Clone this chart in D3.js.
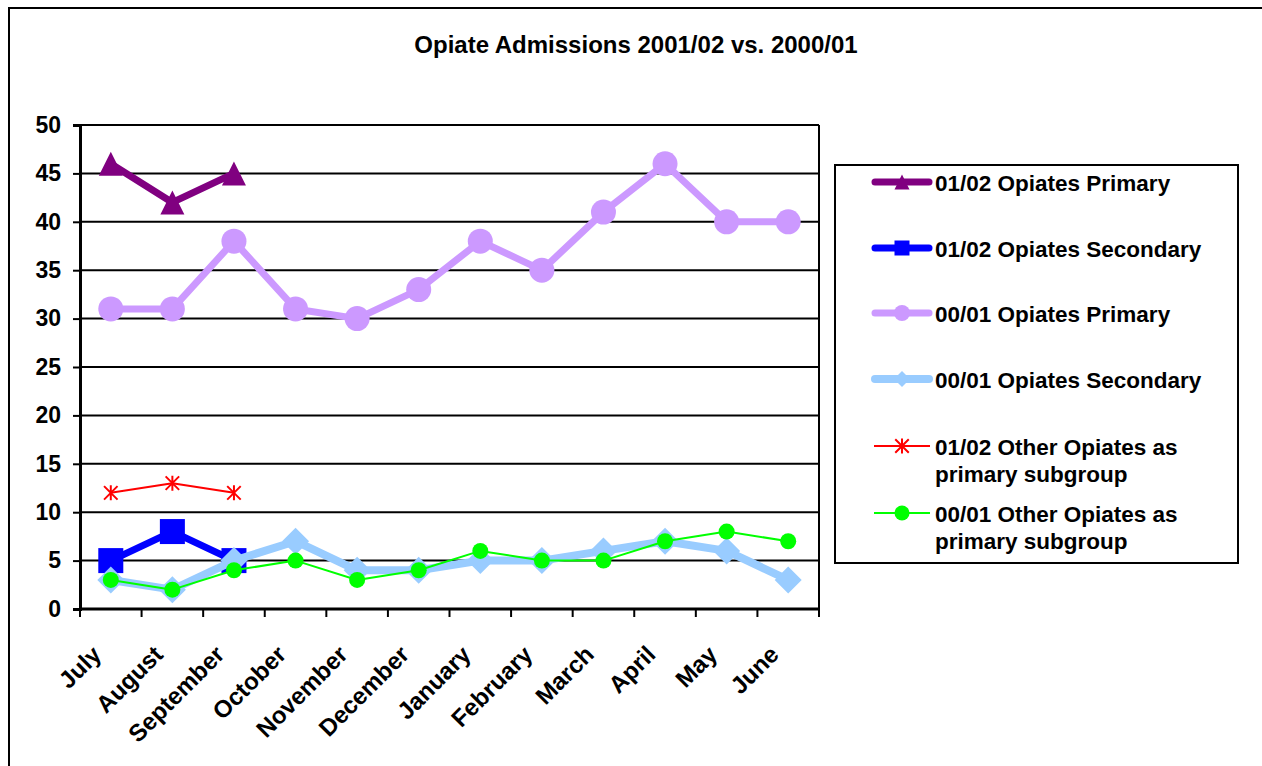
<!DOCTYPE html>
<html>
<head>
<meta charset="utf-8">
<script src="https://cdn.jsdelivr.net/npm/d3@7"></script>
<style>
  html, body { margin: 0; padding: 0; background: #fff; }
  svg { display: block; font-family: "Liberation Sans", Arial, sans-serif; }
</style>
</head>
<body>
<svg id="chart" width="1262" height="766"></svg>
<script>
// Months of the reporting year (July to June)
const months = ["July", "August", "September", "October", "November", "December",
  "January", "February", "March", "April", "May", "June"];
const yTicks = [0, 5, 10, 15, 20, 25, 30, 35, 40, 45, 50];

// Admissions per month; 2001/02 only covers the first quarter so far
const primary0102 = [46, 42, 45];
const secondary0102 = [5, 8, 5];
const primary0001 = [31, 31, 38, 31, 30, 33, 38, 35, 41, 46, 40, 40];
const secondary0001 = [3, 2, 5, 7, 4, 4, 5, 5, 6, 7, 6, 3];
const other0102 = [12, 13, 12];
const other0001 = [3, 2, 4, 5, 3, 4, 6, 5, 5, 7, 8, 7];

const seriesNames = [
  ["01/02 Opiates Primary"],
  ["01/02 Opiates Secondary"],
  ["00/01 Opiates Primary"],
  ["00/01 Opiates Secondary"],
  ["01/02 Other Opiates as", "primary subgroup"],
  ["00/01 Other Opiates as", "primary subgroup"]
];

const series = [
  { name: seriesNames[0], values: primary0102, color: "#800080", width: 7, marker: "triangle", size: 24, legendSize: 15 },
  { name: seriesNames[1], values: secondary0102, color: "#0000FF", width: 7, marker: "square", size: 25, legendSize: 15 },
  { name: seriesNames[2], values: primary0001, color: "#CC99FF", width: 7, marker: "circle", size: 25, legendSize: 16 },
  { name: seriesNames[3], values: secondary0001, color: "#99CCFF", width: 8, marker: "diamond", size: 27, legendSize: 16 },
  { name: seriesNames[4], values: other0102, color: "#FF0000", width: 2, marker: "asterisk", size: 15, legendSize: 15 },
  { name: seriesNames[5], values: other0001, color: "#00FF00", width: 2, marker: "dot", size: 16, legendSize: 15 }
];

const svg = d3.select("#chart");

// Outer chart frame (runs off the right and bottom edges)
svg.append("rect")
  .attr("x", 9).attr("y", 8)
  .attr("width", 1300).attr("height", 800)
  .attr("fill", "#fff").attr("stroke", "#000").attr("stroke-width", 2);

svg.append("text")
  .attr("x", 636).attr("y", 53)
  .attr("text-anchor", "middle")
  .attr("font-size", 24).attr("font-weight", "bold")
  .text("Opiate Admissions 2001/02 vs. 2000/01");

const plot = { left: 80, right: 819, top: 125, bottom: 609 };

const x = d3.scaleBand().domain(months).range([plot.left, plot.right]);
const y = d3.scaleLinear().domain([0, 50]).range([plot.bottom, plot.top]);

// Horizontal gridlines
svg.append("g")
  .selectAll("line")
  .data(yTicks.filter(t => t > 0))
  .join("line")
  .attr("x1", plot.left).attr("x2", plot.right)
  .attr("y1", d => y(d)).attr("y2", d => y(d))
  .attr("stroke", "#000").attr("stroke-width", 2);

// Plot-area right edge
svg.append("line")
  .attr("x1", plot.right).attr("x2", plot.right)
  .attr("y1", plot.top).attr("y2", plot.bottom)
  .attr("stroke", "#000").attr("stroke-width", 2);

// Y axis
const yAxis = svg.append("g")
  .attr("transform", `translate(${plot.left},0)`)
  .call(d3.axisLeft(y).tickValues(yTicks).tickSize(7).tickPadding(12));
yAxis.select(".domain").attr("stroke-width", 3);
yAxis.selectAll(".tick line").attr("stroke-width", 2);
yAxis.selectAll("text")
  .attr("font-size", 23).attr("font-weight", "bold")
  .attr("font-family", "Liberation Sans, Arial, sans-serif")
  .attr("fill", "#000");

// X axis: ticks sit on the category boundaries
const boundaries = d3.range(months.length + 1).map(i => plot.left + i * x.step());
svg.append("g")
  .selectAll("line")
  .data(boundaries)
  .join("line")
  .attr("x1", d => d).attr("x2", d => d)
  .attr("y1", plot.bottom).attr("y2", plot.bottom + 8)
  .attr("stroke", "#000").attr("stroke-width", 2);
svg.append("line")
  .attr("x1", plot.left - 1).attr("x2", plot.right + 1)
  .attr("y1", plot.bottom).attr("y2", plot.bottom)
  .attr("stroke", "#000").attr("stroke-width", 3);

svg.append("g")
  .selectAll("text")
  .data(months)
  .join("text")
  .attr("transform", d => `translate(${x(d) + x.bandwidth() / 2 - 8},${plot.bottom + 47}) rotate(-45)`)
  .attr("text-anchor", "end")
  .attr("font-size", 24).attr("font-weight", "bold")
  .text(d => d);

// Marker shapes
function drawMarker(g, type, size, color) {
  const h = size / 2;
  if (type === "triangle") {
    g.append("path").attr("d", `M0,${-h}L${h},${h}L${-h},${h}Z`).attr("fill", color);
  } else if (type === "square") {
    g.append("rect").attr("x", -h).attr("y", -h).attr("width", size).attr("height", size).attr("fill", color);
  } else if (type === "circle" || type === "dot") {
    g.append("circle").attr("r", h).attr("fill", color);
  } else if (type === "diamond") {
    g.append("path").attr("d", `M0,${-h}L${h},0L0,${h}L${-h},0Z`).attr("fill", color);
  } else if (type === "asterisk") {
    const a = h * 0.9;
    g.append("path")
      .attr("d", `M${-a},${-a}L${a},${a}M${-a},${a}L${a},${-a}M0,${-h}L0,${h}`)
      .attr("stroke", color).attr("stroke-width", 2).attr("fill", "none");
  }
}

const line = d3.line()
  .x((d, i) => x(months[i]) + x.bandwidth() / 2)
  .y(d => y(d));

series.forEach(s => {
  const g = svg.append("g");
  g.append("path")
    .datum(s.values)
    .attr("d", line)
    .attr("fill", "none")
    .attr("stroke", s.color)
    .attr("stroke-width", s.width)
    .attr("stroke-linejoin", "round");
  s.values.forEach((v, i) => {
    const m = g.append("g")
      .attr("transform", `translate(${x(months[i]) + x.bandwidth() / 2},${y(v)})`);
    drawMarker(m, s.marker, s.size, s.color);
  });
});

// Legend
const legend = svg.append("g");
legend.append("rect")
  .attr("x", 835).attr("y", 165).attr("width", 403).attr("height", 398)
  .attr("fill", "#fff").attr("stroke", "#000").attr("stroke-width", 2);

const legendRows = [182, 248, 313, 379, 446, 513];
series.forEach((s, i) => {
  const cy = legendRows[i];
  const g = legend.append("g");
  g.append("line")
    .attr("x1", s.width > 3 ? 875 : 874).attr("x2", s.width > 3 ? 929 : 930)
    .attr("y1", cy).attr("y2", cy)
    .attr("stroke", s.color).attr("stroke-width", s.width)
    .attr("stroke-linecap", s.width > 3 ? "round" : "butt");
  const m = g.append("g").attr("transform", `translate(902,${cy})`);
  drawMarker(m, s.marker, s.legendSize, s.color);
  const t = g.append("text")
    .attr("x", 935).attr("y", cy + 9)
    .attr("font-size", 22.5).attr("font-weight", "bold");
  s.name.forEach((ln, j) => {
    t.append("tspan").attr("x", 935).attr("dy", j === 0 ? 0 : 27).text(ln);
  });
});
</script>
</body>
</html>
